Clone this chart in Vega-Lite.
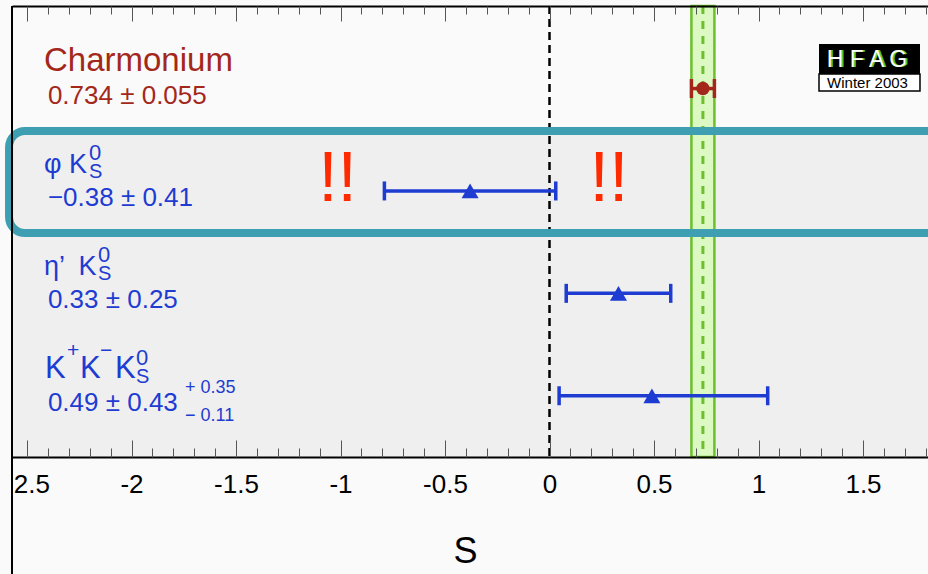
{
  "$schema": "https://vega.github.io/schema/vega-lite/v6.json",
  "width": 916,
  "height": 451,
  "autosize": "none",
  "padding": {"left": 12, "top": 6, "right": 0, "bottom": 117},
  "background": "#fafafa",
  "config": {
    "view": {"stroke": null, "fill": "#fafafa"},
    "font": "Liberation Sans",
    "axis": {"grid": false}
  },
  "data": {"values": [{"id": 1}]},
  "datasets": {
    "meas": [
      {"process": "Charmonium", "group": "charm", "row": 1, "S": 0.734, "lo": 0.679, "hi": 0.789, "name": "Charmonium", "value": "0.734 ± 0.055"},
      {"process": "phiKs", "group": "penguin", "row": 2, "S": -0.38, "lo": -0.79, "hi": 0.03, "name": "φ K", "value": "−0.38 ± 0.41", "kx": -2.2033},
      {"process": "etapKs", "group": "penguin", "row": 3, "S": 0.33, "lo": 0.08, "hi": 0.58, "name": "η’\u2002K", "value": "0.33 ± 0.25", "kx": -2.1603},
      {"process": "KKKs", "group": "penguin", "row": 4, "S": 0.49, "lo": 0.046, "hi": 1.044, "name": "K+K−K", "value": "0.49 ± 0.43", "kx": -1.9785, "sysUp": "+ 0.35", "sysDn": "− 0.11"}
    ],
    "kkLabel": [
      {"txt": "K", "x": -2.4139, "kind": "base", "row": 4},
      {"txt": "+", "x": -2.3086, "kind": "sup", "row": 4},
      {"txt": "K", "x": -2.2464, "kind": "base", "row": 4},
      {"txt": "−", "x": -2.1507, "kind": "sup", "row": 4},
      {"txt": "K", "x": -2.0789, "kind": "base", "row": 4}
    ],
    "exclaim": [
      {"S": -1.014, "row": 2, "txt": "!!"},
      {"S": 0.285, "row": 2, "txt": "!!"}
    ]
  },
  "resolve": {"axis": {"x": "independent"}},
  "layer": [
    {
      "mark": {"type": "rect", "fill": "#efefef"},
      "encoding": {
        "x": {"datum": -2.5718, "type": "quantitative", "scale": {"domain": [-2.5718, 1.811], "nice": false, "zero": false},
          "axis": {"orient": "bottom", "values": [-2.5, -2, -1.5, -1, -0.5, 0, 0.5, 1, 1.5], "ticks": false, "domain": false, "labelPadding": 35, "labelBaseline": "alphabetic", "labelFontSize": 26, "labelFont": "Liberation Sans", "labelColor": "#000", "labelFlush": false, "labelOverlap": false, "labelExpr": "datum.value < 0 ? '-' + format(-datum.value, '~g') : format(datum.value, '~g')", "title": "S", "titleX": 453, "titleY": 105, "titleBaseline": "alphabetic", "titleAlign": "center", "titleFontSize": 36, "titleFontWeight": "normal", "titleFont": "Liberation Sans", "titleColor": "#000", "zindex": 0}},
        "x2": {"datum": 1.811},
        "y": {"datum": 1.415, "type": "quantitative", "scale": {"domain": [0.194, 4.598], "reverse": true, "nice": false, "zero": false}, "axis": null},
        "y2": {"datum": 4.598}
      }
    },
    {
      "mark": {"type": "rect", "fill": "#dcf9c3", "stroke": "#6dbf2c", "strokeWidth": 2.5},
      "encoding": {
        "x": {"datum": 0.679, "type": "quantitative", "scale": {"domain": [-2.5718, 1.811], "nice": false, "zero": false},
          "axis": {"orient": "bottom", "values": [-2.5, -2, -1.5, -1, -0.5, 0, 0.5, 1, 1.5], "labels": false, "ticks": true, "tickSize": -17, "tickColor": "#555", "tickWidth": 1, "domain": true, "domainColor": "#000", "domainWidth": 2, "title": null, "zindex": 1}},
        "x2": {"datum": 0.789},
        "y": {"datum": 0.194, "type": "quantitative", "scale": {"domain": [0.194, 4.598], "reverse": true, "nice": false, "zero": false}, "axis": null},
        "y2": {"datum": 4.598}
      }
    },
    {
      "mark": {"type": "rule", "stroke": "#6dbf2c", "strokeWidth": 3, "strokeDash": [8, 7]},
      "encoding": {
        "x": {"datum": 0.734, "type": "quantitative", "scale": {"domain": [-2.5718, 1.811], "nice": false, "zero": false},
          "axis": {"orient": "bottom", "values": [-2.5, -2.4, -2.3, -2.2, -2.1, -2, -1.9, -1.8, -1.7, -1.6, -1.5, -1.4, -1.3, -1.2, -1.1, -1, -0.9, -0.8, -0.7, -0.6, -0.5, -0.4, -0.3, -0.2, -0.1, 0, 0.1, 0.2, 0.3, 0.4, 0.5, 0.6, 0.7, 0.8, 0.9, 1, 1.1, 1.2, 1.3, 1.4, 1.5, 1.6, 1.7, 1.8], "labels": false, "ticks": true, "tickSize": -9, "tickColor": "#555", "tickWidth": 1, "domain": false, "title": null, "zindex": 1}},
        "y": {"datum": 0.194, "type": "quantitative", "scale": {"domain": [0.194, 4.598], "reverse": true, "nice": false, "zero": false}, "axis": null},
        "y2": {"datum": 4.598}
      }
    },
    {
      "mark": {"type": "rule", "stroke": "#000", "strokeWidth": 2.5, "strokeDash": [8, 5]},
      "encoding": {
        "x": {"datum": 0, "type": "quantitative", "scale": {"domain": [-2.5718, 1.811], "nice": false, "zero": false},
          "axis": {"orient": "top", "values": [-2.5, -2, -1.5, -1, -0.5, 0, 0.5, 1, 1.5], "labels": false, "ticks": true, "tickSize": -15, "tickColor": "#555", "tickWidth": 1, "domain": true, "domainColor": "#000", "domainWidth": 2, "title": null, "zindex": 1}},
        "y": {"datum": 0.194, "type": "quantitative", "scale": {"domain": [0.194, 4.598], "reverse": true, "nice": false, "zero": false}, "axis": null},
        "y2": {"datum": 4.598}
      }
    },
    {
      "mark": {"type": "rect", "fill": "transparent", "stroke": "#3f9fb2", "strokeWidth": 8, "cornerRadius": 16},
      "encoding": {
        "x": {"datum": -2.586, "type": "quantitative", "scale": {"domain": [-2.5718, 1.811], "nice": false, "zero": false},
          "axis": {"orient": "top", "values": [-2.5, -2.4, -2.3, -2.2, -2.1, -2, -1.9, -1.8, -1.7, -1.6, -1.5, -1.4, -1.3, -1.2, -1.1, -1, -0.9, -0.8, -0.7, -0.6, -0.5, -0.4, -0.3, -0.2, -0.1, 0, 0.1, 0.2, 0.3, 0.4, 0.5, 0.6, 0.7, 0.8, 0.9, 1, 1.1, 1.2, 1.3, 1.4, 1.5, 1.6, 1.7, 1.8], "labels": false, "ticks": true, "tickSize": -8, "tickColor": "#555", "tickWidth": 1, "domain": false, "title": null, "zindex": 1}},
        "x2": {"datum": 1.95},
        "y": {"datum": 1.415, "type": "quantitative", "scale": {"domain": [0.194, 4.598], "reverse": true, "nice": false, "zero": false}, "axis": null},
        "y2": {"datum": 2.411}
      }
    },
    {
      "data": {"name": "meas"},
      "mark": {"type": "rule", "strokeWidth": 3.5},
      "encoding": {
        "x": {"field": "lo", "type": "quantitative", "scale": {"domain": [-2.5718, 1.811], "nice": false, "zero": false}, "axis": null},
        "x2": {"field": "hi"},
        "y": {"field": "row", "type": "quantitative", "scale": {"domain": [0.194, 4.598], "reverse": true, "nice": false, "zero": false}, "axis": null},
        "color": {"field": "group", "type": "nominal", "scale": {"domain": ["charm", "penguin"], "range": ["#a3281a", "#1e3cd2"]}, "legend": null}
      }
    },
    {
      "data": {"name": "meas"},
      "mark": {"type": "tick", "orient": "vertical", "size": 19, "thickness": 3.5, "opacity": 1},
      "encoding": {
        "x": {"field": "lo", "type": "quantitative", "scale": {"domain": [-2.5718, 1.811], "nice": false, "zero": false}, "axis": null},
        "y": {"field": "row", "type": "quantitative", "scale": {"domain": [0.194, 4.598], "reverse": true, "nice": false, "zero": false}, "axis": null},
        "color": {"field": "group", "type": "nominal", "scale": {"domain": ["charm", "penguin"], "range": ["#a3281a", "#1e3cd2"]}, "legend": null}
      }
    },
    {
      "data": {"name": "meas"},
      "mark": {"type": "tick", "orient": "vertical", "size": 19, "thickness": 3.5, "opacity": 1},
      "encoding": {
        "x": {"field": "hi", "type": "quantitative", "scale": {"domain": [-2.5718, 1.811], "nice": false, "zero": false}, "axis": null},
        "y": {"field": "row", "type": "quantitative", "scale": {"domain": [0.194, 4.598], "reverse": true, "nice": false, "zero": false}, "axis": null},
        "color": {"field": "group", "type": "nominal", "scale": {"domain": ["charm", "penguin"], "range": ["#a3281a", "#1e3cd2"]}, "legend": null}
      }
    },
    {
      "data": {"name": "meas"},
      "mark": {"type": "point", "filled": true, "opacity": 1},
      "encoding": {
        "x": {"field": "S", "type": "quantitative", "scale": {"domain": [-2.5718, 1.811], "nice": false, "zero": false}, "axis": null},
        "y": {"field": "row", "type": "quantitative", "scale": {"domain": [0.194, 4.598], "reverse": true, "nice": false, "zero": false}, "axis": null},
        "color": {"field": "group", "type": "nominal", "scale": {"domain": ["charm", "penguin"], "range": ["#a3281a", "#1e3cd2"]}, "legend": null},
        "shape": {"field": "group", "type": "nominal", "scale": {"domain": ["charm", "penguin"], "range": ["circle", "triangle-up"]}, "legend": null},
        "size": {"field": "group", "type": "nominal", "scale": {"domain": ["charm", "penguin"], "range": [180, 290]}, "legend": null}
      }
    },
    {
      "data": {"name": "meas"},
      "transform": [{"filter": "datum.process === 'Charmonium'"}],
      "mark": {"type": "text", "align": "left", "baseline": "alphabetic", "dy": -18, "fontSize": 33, "font": "Liberation Sans", "color": "#a3281a"},
      "encoding": {
        "x": {"datum": -2.4187, "type": "quantitative", "scale": {"domain": [-2.5718, 1.811], "nice": false, "zero": false}, "axis": null},
        "y": {"field": "row", "type": "quantitative", "scale": {"domain": [0.194, 4.598], "reverse": true, "nice": false, "zero": false}, "axis": null},
        "text": {"field": "name"}
      }
    },
    {
      "data": {"name": "meas"},
      "transform": [{"filter": "datum.process === 'phiKs' || datum.process === 'etapKs'"}],
      "mark": {"type": "text", "align": "left", "baseline": "alphabetic", "dy": -18, "fontSize": 27, "font": "Liberation Sans", "color": "#1e3cd2"},
      "encoding": {
        "x": {"datum": -2.4187, "type": "quantitative", "scale": {"domain": [-2.5718, 1.811], "nice": false, "zero": false}, "axis": null},
        "y": {"field": "row", "type": "quantitative", "scale": {"domain": [0.194, 4.598], "reverse": true, "nice": false, "zero": false}, "axis": null},
        "text": {"field": "name"}
      }
    },
    {
      "data": {"name": "kkLabel"},
      "transform": [{"filter": "datum.kind === 'base'"}],
      "mark": {"type": "text", "align": "left", "baseline": "alphabetic", "dy": -18, "fontSize": 31, "font": "Liberation Sans", "color": "#1e3cd2"},
      "encoding": {
        "x": {"field": "x", "type": "quantitative", "scale": {"domain": [-2.5718, 1.811], "nice": false, "zero": false}, "axis": null},
        "y": {"field": "row", "type": "quantitative", "scale": {"domain": [0.194, 4.598], "reverse": true, "nice": false, "zero": false}, "axis": null},
        "text": {"field": "txt"}
      }
    },
    {
      "data": {"name": "kkLabel"},
      "transform": [{"filter": "datum.kind === 'sup'"}],
      "mark": {"type": "text", "align": "left", "baseline": "alphabetic", "dy": -39, "fontSize": 21, "font": "Liberation Sans", "color": "#1e3cd2"},
      "encoding": {
        "x": {"field": "x", "type": "quantitative", "scale": {"domain": [-2.5718, 1.811], "nice": false, "zero": false}, "axis": null},
        "y": {"field": "row", "type": "quantitative", "scale": {"domain": [0.194, 4.598], "reverse": true, "nice": false, "zero": false}, "axis": null},
        "text": {"field": "txt"}
      }
    },
    {
      "data": {"name": "meas"},
      "mark": {"type": "text", "align": "left", "baseline": "alphabetic", "dy": 15, "fontSize": 26, "font": "Liberation Sans"},
      "encoding": {
        "x": {"datum": -2.4, "type": "quantitative", "scale": {"domain": [-2.5718, 1.811], "nice": false, "zero": false}, "axis": null},
        "y": {"field": "row", "type": "quantitative", "scale": {"domain": [0.194, 4.598], "reverse": true, "nice": false, "zero": false}, "axis": null},
        "text": {"field": "value"},
        "color": {"field": "group", "type": "nominal", "scale": {"domain": ["charm", "penguin"], "range": ["#a3281a", "#1e3cd2"]}, "legend": null}
      }
    },
    {
      "data": {"name": "meas"},
      "transform": [{"filter": "isValid(datum.kx)"}],
      "mark": {"type": "text", "align": "left", "baseline": "alphabetic", "dy": -13, "fontSize": 20, "font": "Liberation Sans", "color": "#1e3cd2"},
      "encoding": {
        "x": {"field": "kx", "type": "quantitative", "scale": {"domain": [-2.5718, 1.811], "nice": false, "zero": false}, "axis": null},
        "y": {"field": "row", "type": "quantitative", "scale": {"domain": [0.194, 4.598], "reverse": true, "nice": false, "zero": false}, "axis": null},
        "text": {"value": "S"}
      }
    },
    {
      "data": {"name": "meas"},
      "transform": [{"filter": "isValid(datum.kx)"}],
      "mark": {"type": "text", "align": "left", "baseline": "alphabetic", "dy": -31, "fontSize": 22, "font": "Liberation Sans", "color": "#1e3cd2"},
      "encoding": {
        "x": {"field": "kx", "type": "quantitative", "scale": {"domain": [-2.5718, 1.811], "nice": false, "zero": false}, "axis": null},
        "y": {"field": "row", "type": "quantitative", "scale": {"domain": [0.194, 4.598], "reverse": true, "nice": false, "zero": false}, "axis": null},
        "text": {"value": "0"}
      }
    },
    {
      "data": {"name": "meas"},
      "transform": [{"filter": "isValid(datum.sysUp)"}],
      "mark": {"type": "text", "align": "left", "baseline": "alphabetic", "dy": -3, "fontSize": 18, "font": "Liberation Sans", "color": "#1e3cd2"},
      "encoding": {
        "x": {"datum": -1.744, "type": "quantitative", "scale": {"domain": [-2.5718, 1.811], "nice": false, "zero": false}, "axis": null},
        "y": {"field": "row", "type": "quantitative", "scale": {"domain": [0.194, 4.598], "reverse": true, "nice": false, "zero": false}, "axis": null},
        "text": {"field": "sysUp"}
      }
    },
    {
      "data": {"name": "meas"},
      "transform": [{"filter": "isValid(datum.sysDn)"}],
      "mark": {"type": "text", "align": "left", "baseline": "alphabetic", "dy": 25, "fontSize": 18, "font": "Liberation Sans", "color": "#1e3cd2"},
      "encoding": {
        "x": {"datum": -1.744, "type": "quantitative", "scale": {"domain": [-2.5718, 1.811], "nice": false, "zero": false}, "axis": null},
        "y": {"field": "row", "type": "quantitative", "scale": {"domain": [0.194, 4.598], "reverse": true, "nice": false, "zero": false}, "axis": null},
        "text": {"field": "sysDn"}
      }
    },
    {
      "data": {"name": "exclaim"},
      "mark": {"type": "text", "align": "center", "baseline": "alphabetic", "dy": 10, "fontSize": 70, "font": "Liberation Sans", "color": "#ff2a00"},
      "encoding": {
        "x": {"field": "S", "type": "quantitative", "scale": {"domain": [-2.5718, 1.811], "nice": false, "zero": false}, "axis": null},
        "y": {"field": "row", "type": "quantitative", "scale": {"domain": [0.194, 4.598], "reverse": true, "nice": false, "zero": false}, "axis": null},
        "text": {"field": "txt"}
      }
    },
    {
      "mark": {"type": "rect", "fill": "#000"},
      "encoding": {
        "x": {"datum": 1.2895, "type": "quantitative", "scale": {"domain": [-2.5718, 1.811], "nice": false, "zero": false}, "axis": null},
        "x2": {"datum": 1.7727},
        "y": {"datum": 0.565, "type": "quantitative", "scale": {"domain": [0.194, 4.598], "reverse": true, "nice": false, "zero": false}, "axis": null},
        "y2": {"datum": 0.858}
      }
    },
    {
      "mark": {"type": "rect", "fill": "#fff", "stroke": "#000", "strokeWidth": 1.5},
      "encoding": {
        "x": {"datum": 1.2895, "type": "quantitative", "scale": {"domain": [-2.5718, 1.811], "nice": false, "zero": false}, "axis": null},
        "x2": {"datum": 1.7727},
        "y": {"datum": 0.858, "type": "quantitative", "scale": {"domain": [0.194, 4.598], "reverse": true, "nice": false, "zero": false}, "axis": null},
        "y2": {"datum": 1.024}
      }
    },
    {
      "mark": {"type": "text", "align": "center", "baseline": "alphabetic", "fontSize": 23, "font": "Liberation Sans", "color": "#4fc82a", "dx": 1.5},
      "encoding": {
        "x": {"datum": 1.5215, "type": "quantitative", "scale": {"domain": [-2.5718, 1.811], "nice": false, "zero": false}, "axis": null},
        "y": {"datum": 0.79, "type": "quantitative", "scale": {"domain": [0.194, 4.598], "reverse": true, "nice": false, "zero": false}, "axis": null},
        "text": {"value": "H F A G"}
      }
    },
    {
      "mark": {"type": "text", "align": "center", "baseline": "alphabetic", "fontSize": 23, "font": "Liberation Sans", "color": "#ffffff", "dx": -0.5},
      "encoding": {
        "x": {"datum": 1.5215, "type": "quantitative", "scale": {"domain": [-2.5718, 1.811], "nice": false, "zero": false}, "axis": null},
        "y": {"datum": 0.79, "type": "quantitative", "scale": {"domain": [0.194, 4.598], "reverse": true, "nice": false, "zero": false}, "axis": null},
        "text": {"value": "H F A G"}
      }
    },
    {
      "mark": {"type": "text", "align": "center", "baseline": "alphabetic", "fontSize": 15, "font": "Liberation Sans", "color": "#000"},
      "encoding": {
        "x": {"datum": 1.5215, "type": "quantitative", "scale": {"domain": [-2.5718, 1.811], "nice": false, "zero": false}, "axis": null},
        "y": {"datum": 0.995, "type": "quantitative", "scale": {"domain": [0.194, 4.598], "reverse": true, "nice": false, "zero": false}, "axis": null},
        "text": {"value": "Winter 2003"}
      }
    },
    {
      "mark": {"type": "rect", "fill": "#fafafa"},
      "encoding": {
        "x": {"datum": -2.66, "type": "quantitative", "scale": {"domain": [-2.5718, 1.811], "nice": false, "zero": false}, "axis": null},
        "x2": {"datum": -2.5718},
        "y": {"datum": 4.62, "type": "quantitative", "scale": {"domain": [0.194, 4.598], "reverse": true, "nice": false, "zero": false}, "axis": null},
        "y2": {"datum": 5.741}
      }
    },
    {
      "mark": {"type": "rule", "stroke": "#000", "strokeWidth": 2},
      "encoding": {
        "x": {"datum": -2.5718, "type": "quantitative", "scale": {"domain": [-2.5718, 1.811], "nice": false, "zero": false}, "axis": null},
        "y": {"datum": 0.194, "type": "quantitative", "scale": {"domain": [0.194, 4.598], "reverse": true, "nice": false, "zero": false}, "axis": null},
        "y2": {"datum": 5.741}
      }
    }
  ]
}
